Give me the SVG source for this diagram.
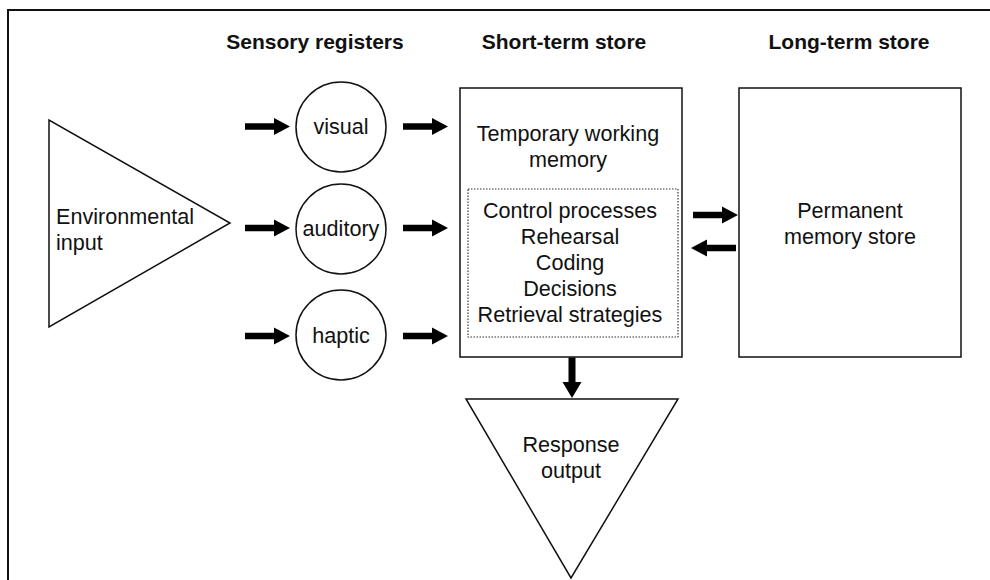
<svg xmlns="http://www.w3.org/2000/svg" width="990" height="580" viewBox="0 0 990 580">
  <style>
    .shape { fill: #fff; stroke: #111; stroke-width: 1.5; }
    .dotted { fill: none; stroke: #333; stroke-width: 1.2; stroke-dasharray: 1.5 1.5; }
    .frame { fill: none; stroke: #111; stroke-width: 2; }
    text { font-family: "Liberation Sans", Arial, sans-serif; font-size: 21.6px; fill: #111; }
    .title { font-weight: bold; font-size: 21px; text-anchor: middle; }
    .mid { text-anchor: middle; }
    .arrow { fill: #000; }
  </style>
  <defs>
    <!-- thick block arrow pointing right, tip at origin -->
    <path id="blk" d="M-45,-3.2 L-16,-3.2 L-16,-8.5 L0,0 L-16,8.5 L-16,3.2 L-45,3.2 Z"/>
  </defs>

  <!-- outer frame (open at right and bottom) -->
  <path class="frame" d="M8,580 L8,10 L990,10"/>

  <!-- column headings -->
  <text class="title" x="315" y="49">Sensory registers</text>
  <text class="title" x="564" y="49">Short-term store</text>
  <text class="title" x="849" y="49">Long-term store</text>

  <g id="environmental-input">
    <polygon class="shape" points="49,120 49,327 230,223"/>
    <text x="56" y="224">Environmental</text>
    <text x="56" y="250">input</text>
  </g>

  <g id="visual">
    <circle class="shape" cx="341" cy="127" r="45"/>
    <text class="mid" x="341" y="134">visual</text>
  </g>
  <g id="auditory">
    <circle class="shape" cx="341" cy="229" r="45"/>
    <text class="mid" x="341" y="236">auditory</text>
  </g>
  <g id="haptic">
    <circle class="shape" cx="341" cy="335" r="45"/>
    <text class="mid" x="341" y="343">haptic</text>
  </g>

  <g id="short-term-store">
    <rect class="shape" x="460" y="88" width="222" height="269"/>
    <text class="mid" x="568" y="141">Temporary working</text>
    <text class="mid" x="568" y="167">memory</text>
    <rect class="dotted" x="468" y="189" width="210" height="148"/>
    <text class="mid" x="570" y="218">Control processes</text>
    <text class="mid" x="570" y="244">Rehearsal</text>
    <text class="mid" x="570" y="270">Coding</text>
    <text class="mid" x="570" y="296">Decisions</text>
    <text class="mid" x="570" y="322">Retrieval strategies</text>
  </g>

  <g id="long-term-store">
    <rect class="shape" x="739" y="88" width="222" height="269"/>
    <text class="mid" x="850" y="218">Permanent</text>
    <text class="mid" x="850" y="244">memory store</text>
  </g>

  <g id="response-output">
    <polygon class="shape" points="466,399 678,399 571,578"/>
    <text class="mid" x="571" y="452">Response</text>
    <text class="mid" x="571" y="478">output</text>
  </g>

  <g id="connectors" class="arrow">
    <!-- into sensory registers -->
    <use href="#blk" transform="translate(290,126.5)"/>
    <use href="#blk" transform="translate(290,228)"/>
    <use href="#blk" transform="translate(290,336)"/>
    <!-- sensory registers to short-term store -->
    <use href="#blk" transform="translate(448,126.5)"/>
    <use href="#blk" transform="translate(448,228)"/>
    <use href="#blk" transform="translate(448,336)"/>
    <!-- between short-term and long-term store -->
    <use href="#blk" transform="translate(738,215)"/>
    <use href="#blk" transform="translate(691,248) rotate(180)"/>
    <!-- short-term store to response output -->
    <path d="M568.5,357.5 L575.5,357.5 L575.5,382 L581.5,382 L572,398 L562.5,382 L568.5,382 Z"/>
  </g>
</svg>
